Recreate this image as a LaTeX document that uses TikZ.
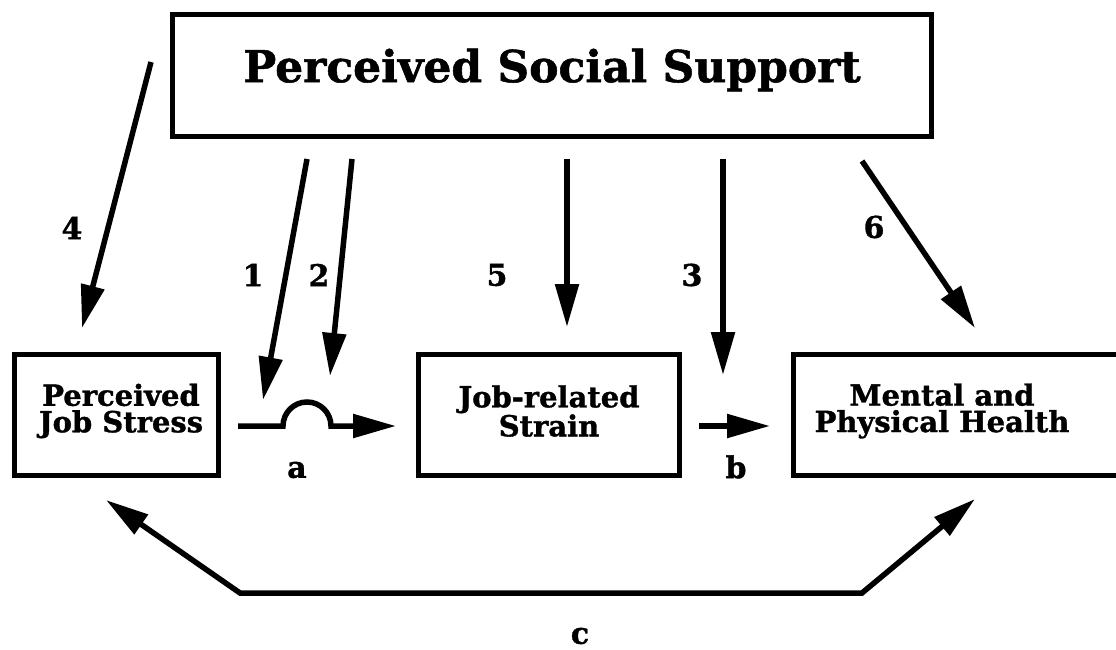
\documentclass[tikz,border=0pt]{standalone}
\usepackage{fontspec}
\setmainfont{DejaVu Serif}[BoldFeatures={FakeBold=1.2}]
\usetikzlibrary{arrows.meta}
\tikzset{
  box/.style={draw, line width=5pt, inner sep=0pt},
  boxtext/.style={font=\bfseries\fontsize{29}{26.5}\selectfont, align=center, inner sep=0pt},
  lbl/.style={font=\bfseries\fontsize{30}{30}\selectfont, inner sep=0pt},
  link/.style={line width=5.5pt, -{Triangle[length=43pt,width=23pt]}},
  twoway/.style={line width=5.5pt, {Triangle[length=43pt,width=23pt]}-{Triangle[length=43pt,width=23pt]}},
}
\begin{document}
\begin{tikzpicture}[x=1pt,y=-1pt]
\useasboundingbox (0,0) rectangle (1116,650);
\clip (0,0) rectangle (1116,650);

% boxes
\node[box, minimum width=759pt, minimum height=122pt] (support) at (552,76) {};
\node[font=\bfseries\fontsize{44}{44}\selectfont, inner sep=0pt] (supporttxt) at (552,70) {Perceived Social Support};

\node[box, minimum width=204pt, minimum height=121pt] (stress) at (116,414.5) {};
\node[boxtext] (stresstxt) at (121,411) {Perceived\\Job Stress};

\node[box, minimum width=261pt, minimum height=121pt] (strain) at (549,414.5) {};
\node[boxtext] (straintxt) at (549,411) {Job-related\\Strain};

\node[box, minimum width=340pt, minimum height=121pt] (health) at (963.5,414.5) {};
\node[boxtext] (healthtxt) at (942,411) {Mental and\\Physical Health};

% free ends of the arrows
\coordinate (s4) at (151,62);   \coordinate (t4) at (82,328);
\coordinate (s1) at (307,159);  \coordinate (t1) at (263,400);
\coordinate (s2) at (352,159);  \coordinate (t2) at (330,376);
\coordinate (s5) at (567,159);  \coordinate (t5) at (567,327);
\coordinate (s3) at (723,159);  \coordinate (t3) at (723,375);
\coordinate (s6) at (862,161);  \coordinate (t6) at (975,328);
\coordinate (sa) at (238,426);  \coordinate (ja) at (283,426);  \coordinate (ta) at (396,426);
\coordinate (sb) at (699,426);  \coordinate (tb) at (770,426);
\coordinate (tcl) at (106,500); \coordinate (ccl) at (240,593);
\coordinate (ccr) at (862,593); \coordinate (tcr) at (975,499);

% paths from social support
\draw[link] (s4) -- (t4);
\draw[link] (s1) -- (t1);
\draw[link] (s2) -- (t2);
\draw[link] (s5) -- (t5);
\draw[link] (s3) -- (t3);
\draw[link] (s6) -- (t6);

% paths a and b
\draw[link] (sa) -- (ja) arc[start angle=180, end angle=360, radius=24] -- (ta);
\draw[link] (sb) -- (tb);

% path c
\draw[twoway, line join=miter] (tcl) -- (ccl) -- (ccr) -- (tcr);

% labels
\node[lbl] (l4) at (72,228) {4};
\node[lbl] (l1) at (253,275) {1};
\node[lbl] (l2) at (319,275) {2};
\node[lbl] (l5) at (497,275) {5};
\node[lbl] (l3) at (692,275) {3};
\node[lbl] (l6) at (874,227) {6};
\node[lbl] (la) at (297,470) {a};
\node[lbl] (lb) at (736,467) {b};
\node[lbl] (lc) at (580,636) {c};
\end{tikzpicture}
\end{document}
